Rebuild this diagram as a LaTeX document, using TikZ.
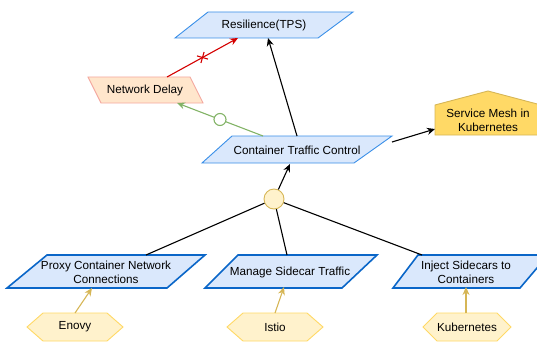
\documentclass[tikz,border=0pt]{standalone}
\usepackage{fontspec}
\setmainfont{Liberation Sans}
\usetikzlibrary{arrows.meta,calc,shapes.misc}
\definecolor{bluefill}{HTML}{DAE8FC}
\definecolor{bluethin}{HTML}{3A8FE8}
\definecolor{bluethick}{HTML}{0A66C8}
\definecolor{ndfill}{HTML}{FFE6CC}
\definecolor{ndline}{HTML}{F4A9A0}
\definecolor{goldfill}{HTML}{FFD966}
\definecolor{goldline}{HTML}{D6B656}
\definecolor{paleyellow}{HTML}{FFF2CC}
\definecolor{greenline}{HTML}{82B366}
\definecolor{redline}{HTML}{D40000}
\tikzset{
  txt/.style={font=\fontsize{11.7}{14}\selectfont, align=center, inner sep=0pt},
  topbox/.style={draw=bluethin, fill=bluefill, line width=0.9pt},
  botbox/.style={draw=bluethick, fill=bluefill, line width=1.6pt},
  ndbox/.style={draw=ndline, fill=ndfill, line width=0.9pt},
  hexbox/.style={draw=goldfill, fill=paleyellow, line width=0.9pt},
  housebox/.style={draw=goldline, fill=goldfill, line width=0.9pt},
  blackarrow/.style={draw=black, line width=1.1pt, -{Stealth[length=8pt,width=7pt]}},
  plainline/.style={draw=black, line width=1.1pt},
  goldarrow/.style={draw=goldline, line width=1.1pt, -{Stealth[length=8pt,width=7pt]}},
  greenarrow/.style={draw=greenline, line width=1.1pt, -{Stealth[length=8pt,width=7pt]}},
  redarrow/.style={draw=redline, line width=1.1pt, -{Stealth[length=8pt,width=7pt]}},
}
\begin{document}
\begin{tikzpicture}[x=1pt,y=-1pt]
\useasboundingbox (0,0) rectangle (537,342);
\begin{scope}
\clip (0,0) rectangle (537,342);
% shapes
\path[topbox] (208,12) -- (353,12) -- (318,38) -- (175,38) -- cycle;
\path[ndbox] (88,77) -- (190,77) -- (203,103) -- (101,103) -- cycle;
\path[topbox] (232,136) -- (392,136) -- (354,163) -- (202,163) -- cycle;
\path[housebox] (435,135) -- (435,105) -- (488,91) -- (541,105) -- (541,135) -- cycle;
\path[botbox] (47,255) -- (205,255) -- (167,288) -- (7,288) -- cycle;
\path[botbox] (238,255) -- (377,255) -- (342,288) -- (205,288) -- cycle;
\path[botbox] (418,255) -- (548,255) -- (520,288) -- (393,288) -- cycle;
\path[hexbox] (27,327) -- (43,313) -- (107,313) -- (123,327) -- (107,341) -- (43,341) -- cycle;
\path[hexbox] (227,327) -- (243,313) -- (307,313) -- (323,327) -- (307,341) -- (243,341) -- cycle;
\path[hexbox] (423,327) -- (437,313) -- (497,313) -- (511,327) -- (497,341) -- (437,341) -- cycle;
\end{scope}
% labels
\node[txt] (res) at (264,25) {Resilience(TPS)};
\node[txt] (nd) at (145,90) {Network Delay};
\node[txt] (ctc) at (297,150) {Container Traffic Control};
\node[txt] (sm) at (488,120) {Service Mesh in\\Kubernetes};
\node[txt] (proxy) at (106,272) {Proxy Container Network\\Connections};
\node[txt] (manage) at (290,272) {Manage Sidecar Traffic};
\node[txt] (inject) at (466,272) {Inject Sidecars to\\Containers};
\node[txt] (enovy) at (75,327) {Enovy};
\node[txt] (istio) at (275,327) {Istio};
\node[txt] (kube) at (467,327) {Kubernetes};
\node[circle, draw=goldline, fill=paleyellow, line width=0.9pt, minimum size=20pt, inner sep=0pt] (junc) at (274,199) {};
% connectors
\draw[goldarrow] ($(enovy)+(0,-14)$) -- ($(proxy)+(-14,16)$);
\draw[goldarrow] ($(istio)+(0,-14)$) -- ($(manage)+(-6,15)$);
\draw[goldarrow] ($(kube)+(-1,-14)$) -- ($(inject)+(0,15)$);
\draw[plainline] ($(proxy)+(40,-17)$) -- (junc);
\draw[plainline] ($(manage)+(-3,-17)$) -- (junc);
\draw[plainline] ($(inject)+(-44,-17)$) -- (junc);
\draw[blackarrow] (junc) -- ($(ctc)+(-7,14)$);
\draw[blackarrow] ($(ctc)+(95,-8)$) -- ($(sm)+(-53,9)$);
\draw[blackarrow] ($(ctc)+(0,-14)$) -- ($(res)+(4,13)$);
\draw[greenarrow] ($(ctc)+(-34,-14)$) -- node[pos=0.5, circle, draw=greenline, fill=white, line width=1.1pt, minimum size=12pt, inner sep=0pt] (gmark) {} ($(nd)+(32,13)$);
\draw[redarrow] ($(nd)+(22,-13)$) -- node[pos=0.5, sloped, cross out, draw=redline, line width=1.1pt, minimum size=7pt, inner sep=0pt] (rmark) {} ($(res)+(-26,13)$);
\end{tikzpicture}
\end{document}
